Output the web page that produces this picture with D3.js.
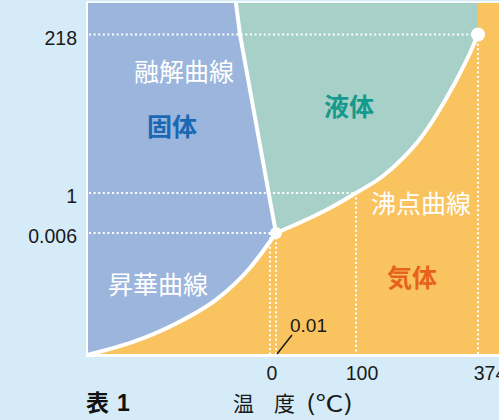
<!DOCTYPE html>
<html><head><meta charset="utf-8">
<script src="https://cdn.jsdelivr.net/npm/d3@7/dist/d3.min.js"></script>
<style>html,body{margin:0;padding:0;background:#d5ebf8;} svg{display:block}</style>
</head><body><svg id="c" width="499" height="420"></svg>
<script>
// ---- data ----
const tempTicks = [0, 100, 374];
const tempLabels = ["0", "100", "374"];
const pressureTicks = [0.006, 1, 218];
const pressureLabels = ["0.006", "1", "218"];
const triplePoint = [0.01, 0.006];
const criticalPoint = [374, 218];
const sublimationCurve = [[-50, 0], [-37.4, 0.00064], [-23.8, 0.00172], [-14.5, 0.00275], [-5.5, 0.00428], [0.01, 0.006]];
const boilingCurve = [[0.01, 0.006], [17.5, 0.155], [42.5, 0.379], [67.5, 0.627], [100, 1], [160.6, 24.3], [205.6, 48.9], [243.7, 74.9], [281.9, 109.2], [326.8, 157.1], [356, 192.7], [374, 218]];
const meltingCurve = [[0.01, 0.006], [-0.36, 1], [-8.2, 218], [-9.3, 250]];
const regionNames = ["固体", "液体", "気体"];
const curveNames = ["融解曲線", "沸点曲線", "昇華曲線"];

// ---- scales (schematic, piecewise) ----
const x = d3.scaleLinear().domain([-50, 0, 0.01, 100, 374, 400]).range([87, 270, 276, 356, 478, 499]);
const y = d3.scaleLinear().domain([0, 0.006, 1, 218, 250]).range([355, 233, 193, 34.5, 3]);

const svg = d3.select("#c");
const COL = {bg: "#d5ebf8", solid: "#9bb5dd", liquid: "#a6d0c8", gas: "#f9c360"};
const xMin = x(-50), xMax = 520, yTop = y(250), yBot = y(0);

svg.append("defs").append("clipPath").attr("id", "plot")
  .append("rect").attr("x", xMin).attr("y", yTop).attr("width", xMax - xMin).attr("height", yBot - yTop);

const g = svg.append("g").attr("clip-path", "url(#plot)");
g.append("rect").attr("x", xMin).attr("y", yTop).attr("width", xMax - xMin).attr("height", yBot - yTop).attr("fill", COL.gas);

const curveLine = d3.line().x(d => x(d[0])).y(d => y(d[1])).curve(d3.curveMonotoneX);
const straight = d3.line().x(d => x(d[0])).y(d => y(d[1]));
const pts = arr => arr.map(d => `L${x(d[0])},${y(d[1])}`).join("");

// liquid region
const liquidD = curveLine(boilingCurve) + pts([[374, 250]]) + pts(meltingCurve.slice().reverse()) + "Z";
g.append("path").attr("d", liquidD).attr("fill", COL.liquid);
// solid region
const solidD = curveLine(sublimationCurve) + pts(meltingCurve.slice(1)) + pts([[-50, 250]]) + "Z";
g.append("path").attr("d", solidD).attr("fill", COL.solid);

// dotted guide lines
const dot = sel => sel.attr("stroke", "#fff").attr("stroke-width", 2).attr("stroke-dasharray", "2 2.6").attr("fill", "none");
const hEndX = [x(triplePoint[0]) - 1, x(100), x(criticalPoint[0])];
pressureTicks.forEach((p, i) => {
  g.append("line").attr("x1", xMin + 2).attr("x2", hEndX[i]).attr("y1", y(p)).attr("y2", y(p)).call(dot);
});
const vStart = [triplePoint[1], 1, criticalPoint[1]];
tempTicks.forEach((t, i) => {
  g.append("line").attr("x1", x(t)).attr("x2", x(t)).attr("y1", y(vStart[i])).attr("y2", yBot).call(dot);
});
g.append("line").attr("x1", x(triplePoint[0])).attr("x2", x(triplePoint[0])).attr("y1", y(triplePoint[1])).attr("y2", yBot).call(dot);

// curves
g.append("path").attr("d", curveLine(sublimationCurve)).attr("stroke", "#fff").attr("stroke-width", 4).attr("fill", "none");
g.append("path").attr("d", curveLine(boilingCurve)).attr("stroke", "#fff").attr("stroke-width", 4).attr("fill", "none");
g.append("path").attr("d", straight(meltingCurve)).attr("stroke", "#fff").attr("stroke-width", 4).attr("fill", "none");

// frame
svg.append("line").attr("x1", xMin).attr("x2", xMax).attr("y1", yTop - 1).attr("y2", yTop - 1).attr("stroke", "#fff").attr("stroke-width", 1.5);
svg.append("line").attr("x1", xMin).attr("x2", xMin).attr("y1", yTop - 1.5).attr("y2", yBot).attr("stroke", "#fff").attr("stroke-width", 2);
svg.append("line").attr("x1", xMin - 1).attr("x2", xMax).attr("y1", yBot + 0.5).attr("y2", yBot + 0.5).attr("stroke", "#fff").attr("stroke-width", 3);

// points
svg.append("circle").attr("cx", x(triplePoint[0])).attr("cy", y(triplePoint[1])).attr("r", 6).attr("fill", "#fff");
svg.append("circle").attr("cx", x(criticalPoint[0])).attr("cy", y(criticalPoint[1])).attr("r", 7).attr("fill", "#fff");

// axis labels
const numFont = "'Liberation Sans', Arial, sans-serif";
const cjk = "'Noto Sans CJK JP', 'Noto Sans', sans-serif";
pressureTicks.forEach((p, i) => {
  svg.append("text").attr("x", 77).attr("y", y(p) + 10).attr("text-anchor", "end")
    .attr("font-family", numFont).attr("font-size", 19.5).attr("fill", "#1a1a1a").text(pressureLabels[i]);
});
const tdx = [2, 6, 12];
tempTicks.forEach((t, i) => {
  svg.append("text").attr("x", x(t) + tdx[i]).attr("y", 380).attr("text-anchor", "middle")
    .attr("font-family", numFont).attr("font-size", 19.5).attr("fill", "#1a1a1a").text(tempLabels[i]);
});
// 0.01 callout
svg.append("line").attr("x1", x(triplePoint[0]) + 1).attr("y1", yBot - 1).attr("x2", x(triplePoint[0]) + 16).attr("y2", yBot - 20)
  .attr("stroke", "#1a1a1a").attr("stroke-width", 1.5);
svg.append("text").attr("x", 290).attr("y", 332).attr("font-family", numFont).attr("font-size", 19).attr("fill", "#1a1a1a").text("0.01");

// titles
svg.append("text").attr("x", 86).attr("y", 411).attr("font-family", cjk).attr("font-size", 23).attr("font-weight", 700).attr("fill", "#111").text("表");
svg.append("text").attr("x", 117).attr("y", 411).attr("font-family", numFont).attr("font-size", 23).attr("font-weight", 700).attr("fill", "#111").text("1");
svg.append("text").attr("x", 233).attr("y", 411).attr("font-family", cjk).attr("font-size", 21).attr("fill", "#1a1a1a").text("温");
svg.append("text").attr("x", 274).attr("y", 411).attr("font-family", cjk).attr("font-size", 21).attr("fill", "#1a1a1a").text("度");
svg.append("text").attr("x", 306).attr("y", 411).attr("font-family", cjk).attr("font-size", 22)
  .attr("textLength", 47).attr("lengthAdjust", "spacingAndGlyphs").attr("fill", "#1a1a1a").text("(℃)");

// region labels
const reg = [[172, 136, "#1a68b3"], [349, 116, "#139a8c"], [412, 287, "#e8621c"]];
regionNames.forEach((n, i) => {
  svg.append("text").attr("x", reg[i][0]).attr("y", reg[i][1]).attr("text-anchor", "middle")
    .attr("font-family", cjk).attr("font-size", 25).attr("font-weight", 700).attr("fill", reg[i][2]).text(n);
});
const cl = [[184, 81], [421, 213], [158, 294]];
curveNames.forEach((n, i) => {
  svg.append("text").attr("x", cl[i][0]).attr("y", cl[i][1]).attr("text-anchor", "middle")
    .attr("font-family", cjk).attr("font-size", 25).attr("font-weight", 400).attr("fill", "#fff").text(n);
});
</script></body></html>
